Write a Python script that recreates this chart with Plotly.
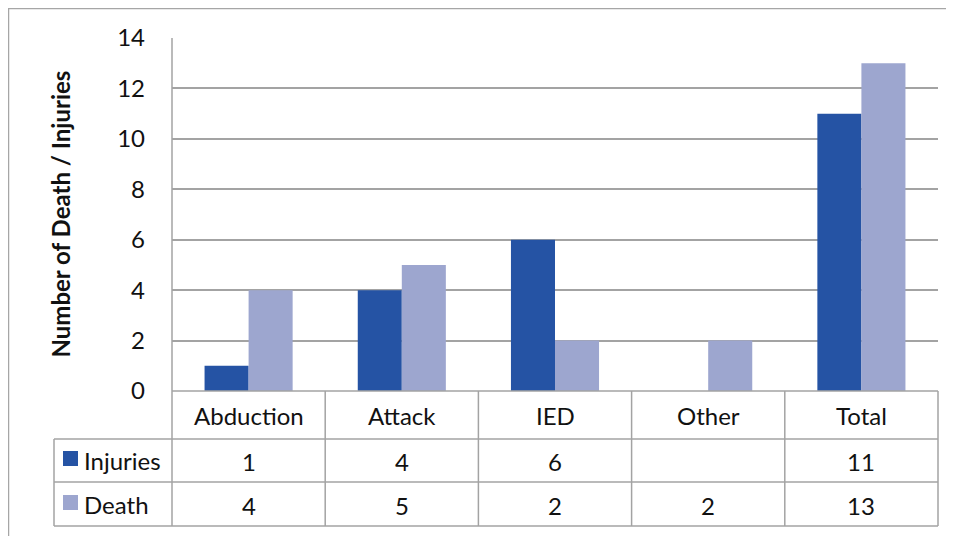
import plotly.graph_objects as go

categories = ["Abduction", "Attack", "IED", "Other", "Total"]
injuries = [1, 4, 6, None, 11]
death = [4, 5, 2, 2, 13]
series_names = ["Injuries", "Death"]
series_colors = ["#2553A4", "#9DA6CF"]
y_ticks = [0, 2, 4, 6, 8, 10, 12, 14]

# page has an 8px body margin, so figure is 8px smaller and offset
OFF = 8
W, H = 954 - OFF, 536 - OFF
L, R, T, B = 172, 938, 38, 391  # reference pixel coordinates
FONT = "Lato"
GRID = "#A3A3A3"


def px(x):
    return (x - L) / (R - L)


def py(y):
    return (B - y) / (B - T)


fig = go.Figure()
for name, vals, col in zip(series_names, [injuries, death], series_colors):
    fig.add_bar(x=list(range(len(categories))), y=vals, name=name,
                marker=dict(color=col, line=dict(width=0)))

n = len(categories)
shapes = []
line = dict(color=GRID, width=1.5)
# outer chart border
shapes.append(dict(type="rect", xref="paper", yref="paper",
                   x0=px(8.5), x1=px(970), y0=py(8.5), y1=py(560),
                   line=dict(color="#A6A6A6", width=1.5), layer="below"))
# column boundaries of the table
for i in range(n + 1):
    xb = i / n
    top = py(T) if i == 0 else py(B)
    shapes.append(dict(type="line", xref="paper", yref="paper",
                       x0=xb, x1=xb, y0=top, y1=py(526), line=line))
# horizontal table lines
row_lines = [439, 482, 526]
for yl in row_lines:
    shapes.append(dict(type="line", xref="paper", yref="paper",
                       x0=px(54), x1=1, y0=py(yl), y1=py(yl), line=line))
shapes.append(dict(type="line", xref="paper", yref="paper",
                   x0=0, x1=1, y0=0, y1=0, line=line))
shapes.append(dict(type="line", xref="paper", yref="paper",
                   x0=px(54), x1=px(54), y0=py(439), y1=py(526), line=line))
# legend keys
row_centers = [461, 505]
for yc, col in zip(row_centers, series_colors):
    shapes.append(dict(type="rect", xref="paper", yref="paper",
                       x0=px(63), x1=px(78), y0=py(yc - 10), y1=py(yc + 5),
                       fillcolor=col, line=dict(width=0)))

annotations = []
tf = dict(family=FONT, size=24, color="#111111")
for i, c in enumerate(categories):
    annotations.append(dict(x=i, y=py(415), xref="x", yref="paper", text=c,
                            showarrow=False, font=tf, xanchor="center", yanchor="middle"))
for yc, name, vals in zip(row_centers, series_names, [injuries, death]):
    annotations.append(dict(x=px(82), y=py(yc - 1), xref="paper", yref="paper", text=name,
                            showarrow=False, font=tf, xanchor="left", yanchor="middle"))
    for i, v in enumerate(vals):
        if v is None:
            continue
        annotations.append(dict(x=i, y=py(yc), xref="x", yref="paper", text=str(v),
                                showarrow=False, font=tf, xanchor="center", yanchor="middle"))
annotations.append(dict(x=px(60), y=0.5, xref="paper", yref="paper",
                        text="<b>Number of Death / Injuries</b>", textangle=-90,
                        showarrow=False, font=dict(family=FONT, size=24, color="#111111"),
                        xanchor="center", yanchor="middle"))

fig.update_layout(
    width=W, height=H,
    margin=dict(l=L - OFF, r=W - (R - OFF), t=T - OFF, b=H - (B - OFF), pad=0),
    paper_bgcolor="white", plot_bgcolor="white",
    barmode="group", bargap=0.425, bargroupgap=0,
    showlegend=False,
    shapes=shapes, annotations=annotations,
    xaxis=dict(range=[-0.5, n - 0.5], showticklabels=False, showgrid=False,
               zeroline=False, showline=False, ticks=""),
    yaxis=dict(range=[0, 14], tickvals=y_ticks, showgrid=True, gridcolor=GRID,
               gridwidth=1.5, zeroline=False, showline=False, ticks="",
               ticklabelstandoff=26,
               tickfont=dict(family=FONT, size=24, color="#111111")),
)

fig.write_html("out.html")
